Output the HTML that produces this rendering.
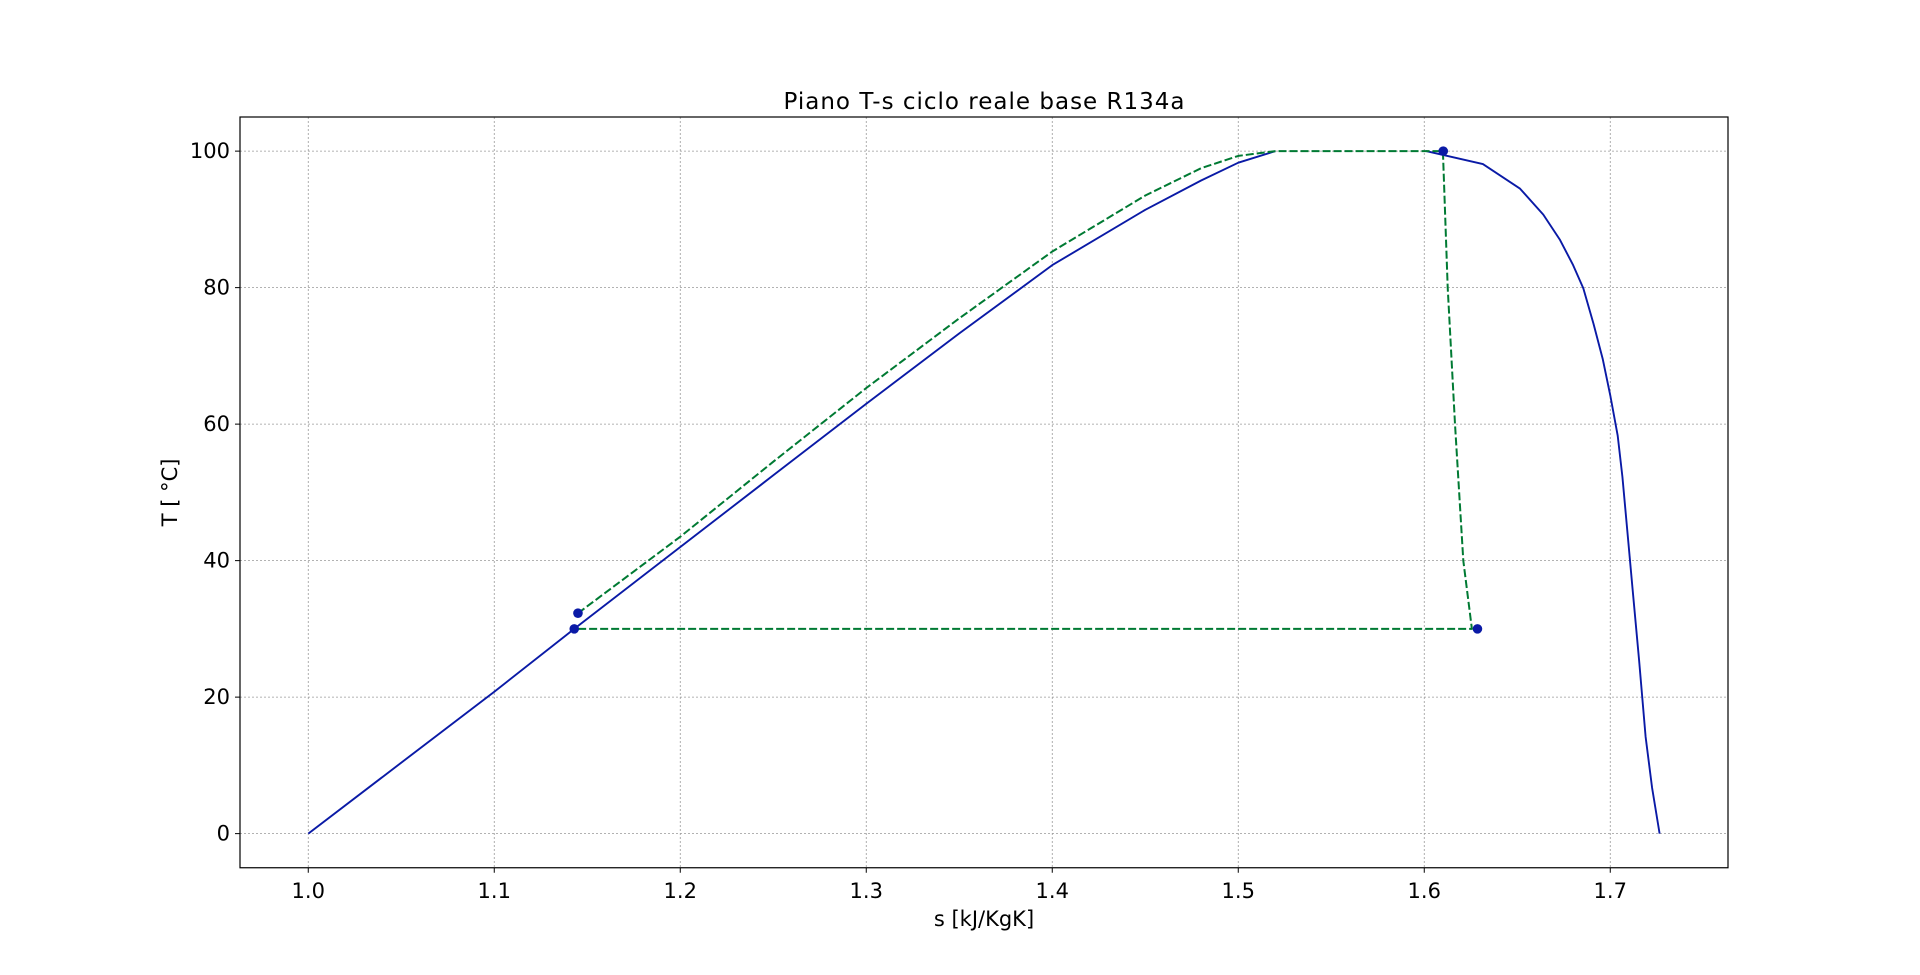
<!DOCTYPE html>
<html><head><meta charset="utf-8"><style>body{margin:0;background:#fff}svg{display:block}</style></head>
<body>
<svg id="chart" width="1920" height="975" xmlns="http://www.w3.org/2000/svg" font-family="DejaVu Sans, Liberation Sans, sans-serif">
<rect width="1920" height="975" fill="#fff"/>
<g id="grid"></g><g id="marks"></g><g id="axes"></g>
</svg>
<script>
const xTicks=[1.0,1.1,1.2,1.3,1.4,1.5,1.6,1.7];
const yTicks=[0,20,40,60,80,100];
const liqS=[1.0,1.1,1.143,1.2,1.25,1.3,1.35,1.4,1.45,1.48,1.5,1.52];
const liqT=[0,20.8,30,42,52.5,63,73.3,83.3,91.4,95.7,98.3,100];
const vapS=[1.601,1.6315,1.6515,1.664,1.673,1.680,1.6855,1.691,1.696,1.700,1.704,1.7065,1.710,1.712,1.7155,1.719,1.7225,1.7265];
const vapT=[100,98.1,94.5,90.7,87,83.3,79.9,74.7,69.5,64.2,58.3,52.3,41.8,35.8,25.4,14.2,6.7,0];
const cycS=[1.145,1.2,1.25,1.3,1.35,1.4,1.45,1.48,1.5,1.52,1.61,1.6126,1.6165,1.621,1.6256,1.143];
const cycT=[32.3,43.5,54.5,65.3,75.5,85.3,93.5,97.5,99.3,100,100,80,60,40,30,30];
const ptS=[1.145,1.143,1.6102,1.6286];
const ptT=[32.3,30,100,30];
const L=240,R=1728,T=117,B=867.75,x0=0.9633,x1=1.7633,y0=-5,y1=105;
const X=v=>L+(v-x0)/(x1-x0)*(R-L), Y=v=>B-(v-y0)/(y1-y0)*(B-T);
const NS='http://www.w3.org/2000/svg';
function mk(tag,attrs,parent){const e=document.createElementNS(NS,tag);for(const k in attrs)e.setAttribute(k,attrs[k]);document.getElementById(parent).appendChild(e);return e;}
const grid='grid',marks='marks',axes='axes';
xTicks.forEach(t=>{
  const g=mk('line',{x1:X(t),x2:X(t),y1:T,y2:B,stroke:'#999','stroke-width':0.8,'stroke-dasharray':'2,2'},grid);
  
  
  mk('line',{x1:X(t),x2:X(t),y1:B,y2:B+5,stroke:'#000','stroke-width':1},axes);
  const l=mk('text',{x:X(t),y:B+30,'text-anchor':'middle','font-size':21},axes);l.textContent=t.toFixed(1);
  
  
});
yTicks.forEach(t=>{
  const g=mk('line',{x1:L,x2:R,y1:Y(t),y2:Y(t),stroke:'#999','stroke-width':0.8,'stroke-dasharray':'2,2'},grid);
  
  
  mk('line',{x1:L-5,x2:L,y1:Y(t),y2:Y(t),stroke:'#000','stroke-width':1},axes);
  const l=mk('text',{x:L-10,y:Y(t)+7,'text-anchor':'end','font-size':21},axes);l.textContent=String(t);
  
  
});
function path(S,Tv,attrs,name){
  const d=S.map((s,i)=>(i?'L':'M')+X(s).toFixed(1)+','+Y(Tv[i]).toFixed(1)).join('');
  const p=mk('path',Object.assign({d:d,fill:'none','stroke-linejoin':'round'},attrs),marks);
  
  
}
path(liqS,liqT,{stroke:'#0a1aa6','stroke-width':1.9},'saturated-liquid-line');
path(vapS,vapT,{stroke:'#0a1aa6','stroke-width':1.9},'saturated-vapor-line');
path(cycS,cycT,{stroke:'#007a33','stroke-width':2,'stroke-dasharray':'8,3'},'cycle-line');
ptS.forEach((s,i)=>{
  const c=mk('circle',{cx:X(s),cy:Y(ptT[i]),r:4.8,fill:'#0a1aa6'},marks);
  
  
});
const fr=mk('rect',{x:L,y:T,width:R-L,height:B-T,fill:'none',stroke:'#000','stroke-width':1.2},axes);


const ti=mk('text',{x:(L+R)/2,y:109,'text-anchor':'middle','font-size':23,textLength:401},axes);ti.textContent='Piano T-s ciclo reale base R134a';


const xt=mk('text',{x:(L+R)/2,y:926,'text-anchor':'middle','font-size':21},axes);xt.textContent='s [kJ/KgK]';


const yt=mk('text',{x:0,y:0,'text-anchor':'middle','font-size':21,transform:'translate(177,'+((T+B)/2)+') rotate(-90)'},axes);yt.textContent='T [ °C]';


</script>
</body></html>
